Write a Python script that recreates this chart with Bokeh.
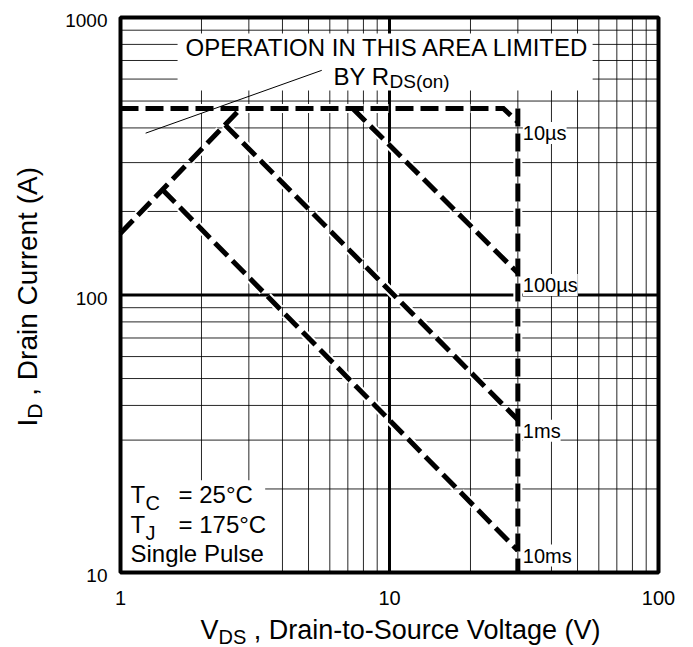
from math import pi, log10
from bokeh.plotting import figure
from bokeh.models import Label
from bokeh.core.properties import value
from bokeh.embed import file_html
from bokeh.resources import INLINE

# ---------------- data ----------------
x_major = [1, 10, 100]
x_minor = [2, 3, 4, 5, 6, 7, 8, 9, 20, 30, 40, 50, 60, 70, 80, 90]
y_major = [10, 100, 1000]
y_minor = [20, 30, 40, 50, 60, 70, 80, 90, 200, 300, 400, 500, 600, 700, 800, 900]
x_tick_labels = ["1", "10", "100"]
y_tick_labels = ["10", "100", "1000"]

# RDS(on) limit (rising line)
rds_v = [1.0, 2.8]
rds_i = [167, 470]
# 10 us
us10_v = [1.0, 26.5, 30.0]
us10_i = [470, 470, 420]
# 100 us
us100_v = [7.3, 30.0]
us100_i = [470, 120]
# 1 ms
ms1_v = [2.45, 30.0]
ms1_i = [410, 35.5]
# 10 ms
ms10_v = [1.43, 30.0]
ms10_i = [240, 12]
# BVDSS limit
bv_v = [30.0, 30.0]
bv_i = [470, 10]
# pointer line to the RDS(on) note
ptr_v = [1.24, 5.6]
ptr_i = [383, 645]

curve_labels = ["10\u00b5s", "100\u00b5s", "1ms", "10ms"]

FONT = "Liberation Sans"
NBSP = "\u00a0"

# ---------------- layout (pixels) ----------------
W, H = 693, 647
L, R, T, B = 120, 658, 17, 572      # chart box inside the canvas

x0, x1 = x_major[0], x_major[-1]
y0, y1 = y_major[0], y_major[-1]
dx = (log10(x1) - log10(x0)) / (R - L)     # decades per pixel
dy = (log10(y1) - log10(y0)) / (B - T)
x_range = (10 ** (log10(x0) - L * dx), 10 ** (log10(x1) + (W - R) * dx))
y_range = (10 ** (log10(y0) - (H - B) * dy), 10 ** (log10(y1) + T * dy))

p = figure(width=W, height=H, x_axis_type="log", y_axis_type="log",
           x_axis_location=None, y_axis_location=None,
           x_range=x_range, y_range=y_range,
           output_backend="svg", toolbar_location=None, title=None,
           min_border=0)
p.grid.visible = False
p.background_fill_color = "white"
p.border_fill_color = "white"
p.outline_line_color = None

# grid
n = len(x_minor)
p.segment(x0=x_minor, y0=[y0] * n, x1=x_minor, y1=[y1] * n,
          line_color="black", line_width=1, line_alpha=0.85)
n = len(y_minor)
p.segment(x0=[x0] * n, y0=y_minor, x1=[x1] * n, y1=y_minor,
          line_color="black", line_width=1, line_alpha=0.85)
p.segment(x0=x_major, y0=[y0] * 3, x1=x_major, y1=[y1] * 3,
          line_color="black", line_width=3)
p.segment(x0=[x0] * 3, y0=y_major, x1=[x1] * 3, y1=y_major,
          line_color="black", line_width=3)

# white backgrounds behind the notes
p.quad(left=[1.63], right=[56.9], bottom=[546], top=[876],
       fill_color="white", line_color=None)
p.quad(left=[1.0], right=[3.45], bottom=[10], top=[21.5],
       fill_color="white", line_color=None)

curves = [(rds_v, rds_i), (us10_v, us10_i), (us100_v, us100_i),
          (ms1_v, ms1_i), (ms10_v, ms10_i), (bv_v, bv_i)]
for v, i in curves:
    p.line(v, i, line_color="white", line_width=9, line_dash="18 7")
for v, i in curves:
    p.line(v, i, line_color="black", line_width=5, line_dash="18 7",
           line_join="miter")

p.line(ptr_v, ptr_i, line_color="black", line_width=1)

# chart border
p.quad(left=[x0], right=[x1], bottom=[y0], top=[y1], fill_color=None,
       line_color="black", line_width=4)

# tick labels
p.text(x=x_major, y=[y0] * 3, text=x_tick_labels, text_font=value(FONT),
       text_font_size="20px", text_align="center", text_baseline="middle",
       y_offset=25, text_color="black")
p.text(x=[x0] * 3, y=y_major, text=y_tick_labels, text_font=value(FONT),
       text_font_size="19px", text_align="right", text_baseline="middle",
       x_offset=-13, y_offset=3, text_color="black")

SHIFT = 9   # rendered baseline sits this much lower than the anchor


def lab(text, x, y, size, angle=0, **kw):
    # x, y: page pixels (baseline start) from the top-left corner
    if angle:
        x, y = x - SHIFT, y
    else:
        y = y - SHIFT
    p.add_layout(Label(text=text, x=x, y=H - y, x_units="screen", y_units="screen",
                       text_font=FONT, text_font_size=f"{size}px",
                       text_color="black", text_baseline="alphabetic",
                       text_align="left", angle=angle, **kw))


# RDS(on) note
lab("OPERATION IN THIS AREA LIMITED", 185, 56, 24)
lab("BY R", 333, 85, 24)
lab("DS(on)", 389, 90, 19)

# conditions
lab("T", 130, 503, 24)
lab("C", 145, 511, 20)
lab("= 25\u00b0C", 178, 503, 24)
lab("T", 130, 533, 24)
lab("J", 145, 541, 20)
lab("= 175\u00b0C", 178, 533, 24)
lab("Single Pulse", 130, 562, 24)

# x axis title
lab("V", 200, 638, 27)
lab("DS", 218, 645, 20)
lab(NBSP + ", Drain-to-Source Voltage (V)", 245.8, 638, 27)

# y axis title (rotated)
lab("I", 36, 426, 28, angle=pi / 2)
lab("D", 43, 418.2, 21, angle=pi / 2)
lab(NBSP + ", Drain Current (A)", 36, 403, 28, angle=pi / 2)

# curve labels
ends = [us10_i[-1], us100_i[-1], ms1_i[-1], ms10_i[-1]]
offs = [-11, -12, -11, -5]
for t, yi, off in zip(curve_labels, ends, offs):
    p.add_layout(Label(text=t, x=bv_v[0], y=yi, x_offset=5, y_offset=off,
                       text_font=FONT, text_font_size="20px",
                       text_color="black", text_baseline="alphabetic",
                       background_fill_color="white"))

open("out.html", "w").write(file_html(p, INLINE))
